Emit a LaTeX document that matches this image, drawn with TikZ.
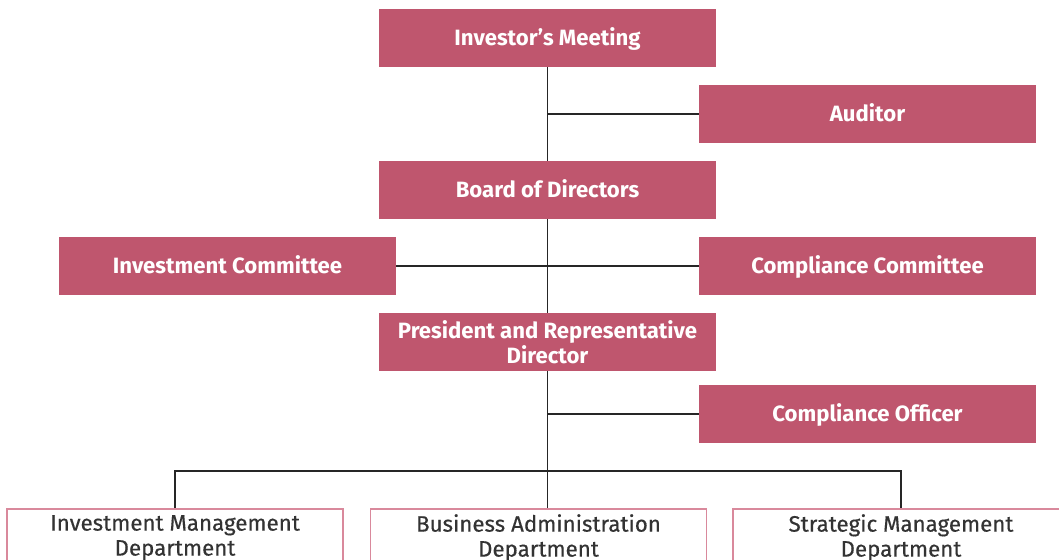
\documentclass[tikz,border=0pt]{standalone}
\usepackage{fontspec}
\setmainfont{Fira Sans}
\newfontfamily\deptfont[FakeBold=0.4]{Fira Sans}
\usetikzlibrary{positioning}
\definecolor{rose}{HTML}{BF566E}
\definecolor{roseline}{HTML}{D9899C}
\tikzset{
    office/.style = {rectangle,fill=rose,draw=none,text=white,inner sep=0pt,
                     font=\bfseries\fontsize{12.6}{14.5}\selectfont,
                     minimum width=6.74cm,minimum height=1.16cm,align=center},
    oneline/.style = {office,text height=11pt,text depth=2pt},
    dept/.style   = {rectangle,fill=white,draw=roseline,line width=0.9pt,text=black!80,
                     inner sep=0pt,anchor=north,
                     font=\deptfont\fontsize{12.7}{14.2}\selectfont,
                     minimum width=6.72cm,minimum height=1.16cm,align=center},
    link/.style   = {draw=black!85,line width=1.1pt}
}
\begin{document}
\begin{tikzpicture}[x=0.02cm,y=-0.02cm]
            \clip (0,0) rectangle (1059,560);
            \fill[white] (0,0) rectangle (1059,560);

            \node[oneline] (meet)  at (547.5,38)  {Investor's Meeting};
            \node[oneline] (aud)   at (867.5,114) {Auditor};
            \node[oneline] (board) at (547.5,190) {Board of Directors};
            \node[oneline] (invc)  at (227.5,266) {Investment Committee};
            \node[oneline] (compc) at (867.5,266) {Compliance Committee};
            \node[office]  (pres)  at (547.5,342) {President and Representative\\Director};
            \node[oneline] (compo) at (867.5,414) {Compliance Officer};

            \node[dept]    (invm)  at (175,508)   {Investment Management\\Department};
            \node[dept]    (busa)  at (538.5,508) {Business Administration\\Department};
            \node[dept]    (strm)  at (901,508)   {Strategic Management\\Department};

            \coordinate    (bar)   at (547.5,471);

            \draw[link] (meet)  -- (board);
            \draw[link] (meet.south |- aud.west) -- (aud.west);
            \draw[link] (board) -- (pres);
            \draw[link] (invc)  -- (compc);
            \draw[link] (pres.south) -- (bar) -- (bar |- busa.north);
            \draw[link] (pres.south |- compo.west) -- (compo.west);
            \draw[link] (invm.north) |- (bar) -| (strm.north);
        \end{tikzpicture}
\end{document}
